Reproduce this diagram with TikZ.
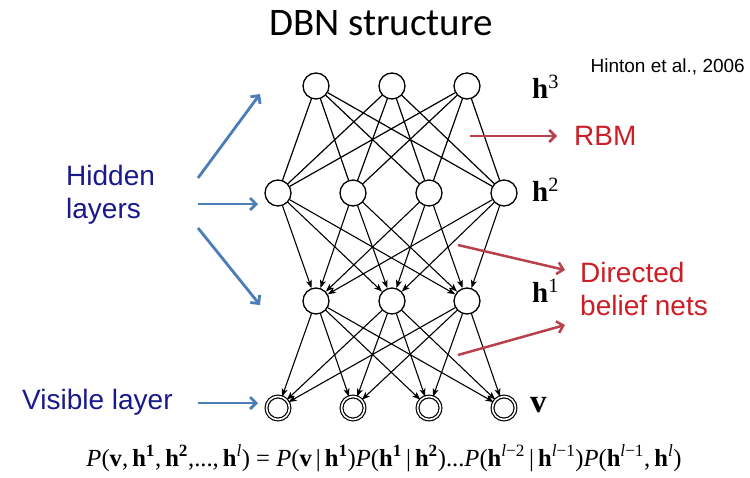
\documentclass[tikz,border=0pt]{standalone}
\usepackage{fontspec}
\setmainfont{Liberation Serif}
\newfontfamily\arialf{Liberation Sans}
\newfontfamily\calibrif{Carlito}
\usetikzlibrary{arrows.meta}
\definecolor{navytext}{RGB}{25,25,140}
\definecolor{bluearrow}{RGB}{75,125,185}
\definecolor{redtext}{RGB}{205,30,40}
\definecolor{redarrow}{RGB}{185,65,75}
\newcommand\hbf[1]{\textbf{h}\textsuperscript{#1}}
\begin{document}
\begin{tikzpicture}[x=1pt,y=-1pt,
  unit/.style={circle,draw,line width=1.3pt,minimum size=26pt,inner sep=0pt,fill=white},
  visunit/.style={circle,draw,double,double distance=1.6pt,line width=1.2pt,minimum size=23pt,inner sep=0pt,fill=white},
  edge/.style={line width=1.2pt},
  dedge/.style={line width=1.1pt,-{Stealth[length=8pt,width=6pt,inset=2pt]}},
  bluearr/.style={bluearrow,line width=2.8pt,-{Straight Barb[length=6pt,width=12pt]}},
  redarr/.style={redarrow,line width=2.5pt,-{Straight Barb[length=6pt,width=12pt]}},
  sidetext/.style={font=\arialf\fontsize{28}{33}\selectfont,align=left,inner sep=0pt},
  hlabel/.style={font=\fontsize{29}{32}\selectfont,anchor=base west,inner sep=0pt}]
\useasboundingbox[fill=white] (0,0) rectangle (750,477);
% title
\node[font=\calibrif\fontsize{39}{44}\selectfont,anchor=base,inner sep=0pt] (title) at (381,35) {DBN structure};
\node[font=\arialf\fontsize{19}{23}\selectfont,anchor=east,inner sep=0pt] (cite) at (745,67) {Hinton et al., 2006};
% positions
\foreach \i/\x in {1/316,2/392,3/467}{ \coordinate (c3\i) at (\x,86); \coordinate (c1\i) at (\x,301); }
\foreach \i/\x in {1/278,2/353,3/429,4/504}{ \coordinate (c2\i) at (\x,193); \coordinate (cv\i) at (\x,408); }
% nodes
\foreach \i in {1,2,3}{ \node[unit] (h3\i) at (c3\i) {}; \node[unit] (h1\i) at (c1\i) {}; }
\foreach \i in {1,2,3,4}{ \node[unit] (h2\i) at (c2\i) {}; \node[visunit] (v\i) at (cv\i) {}; }
% connectors
\foreach \i in {1,2,3}{
  \foreach \j in {1,2,3,4}{
    \draw[edge] (h3\i) -- (h2\j);
    \draw[dedge] (h2\j) -- (h1\i);
    \draw[dedge] (h1\i) -- (v\j);
  }
}
% layer labels
\node[hlabel] (l3) at (532,98) {\hbf{3}};
\node[hlabel] (l2) at (532,201) {\hbf{2}};
\node[hlabel] (l1) at (532,302) {\hbf{1}};
\node[hlabel,font=\fontsize{33}{36}\selectfont] (lv) at (530,412) {\textbf{v}};
% left texts
\node[sidetext,text=navytext,anchor=west] (hidden) at (66,195) {Hidden\\layers};
\node[sidetext,text=navytext,anchor=west] (visible) at (22,402) {Visible layer};
\coordinate (ha1) at (198,178); \coordinate (hb1) at (260,94);
\coordinate (ha2) at (198,204); \coordinate (hb2) at (258,204);
\coordinate (ha3) at (198,228); \coordinate (hb3) at (260,305);
\coordinate (va) at (198,403); \coordinate (vb) at (258,403);
\draw[bluearr] (ha1) -- (hb1);
\draw[bluearr] (ha2) -- (hb2);
\draw[bluearr] (ha3) -- (hb3);
\draw[bluearr] (va) -- (vb);
% right texts
\node[sidetext,text=redtext,anchor=west] (rbm) at (574,136) {RBM};
\node[sidetext,text=redtext,anchor=west] (dbn) at (580,289) {Directed\\belief nets};
\coordinate (ra) at (470,136); \coordinate (rb) at (557,136);
\coordinate (da1) at (458,245); \coordinate (db1) at (565,270);
\coordinate (da2) at (458,355); \coordinate (db2) at (565,325);
\draw[redarr] (ra) -- (rb);
\draw[redarr] (da1) -- (db1);
\draw[redarr] (da2) -- (db2);
% formula
\node[font=\fontsize{24.6}{28}\selectfont,anchor=base,inner sep=0pt] (formula) at (384,466)
 {\textit{P}(\textbf{v},\,\hbf{\textbf{1}},\,\hbf{\textbf{2}},...,\,\hbf{\textit{l}}) = \textit{P}(\textbf{v}\,|\,\hbf{\textbf{1}})\textit{P}(\hbf{\textbf{1}}\,|\,\hbf{\textbf{2}})...\textit{P}(\hbf{\textit{l}−2}\,|\,\hbf{\textit{l}−1})\textit{P}(\hbf{\textit{l}−1},\,\hbf{\textit{l}})};
\end{tikzpicture}
\end{document}
